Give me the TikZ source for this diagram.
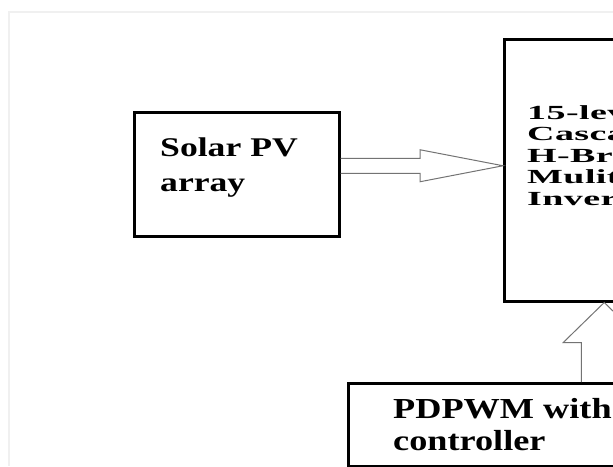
\documentclass[tikz,border=0pt]{standalone}
\usepackage{fontspec}
\setmainfont{Liberation Serif}
\newfontfamily\pvfont[FakeStretch=1.32]{Liberation Serif}
\newfontfamily\invfont[FakeStretch=1.9,LetterSpace=2]{Liberation Serif}
\newfontfamily\pwmfont[FakeStretch=1.25]{Liberation Serif}
\usetikzlibrary{positioning, calc}

\tikzset{
  blockbox/.style={draw, line width=2.5pt, inner sep=0pt, anchor=north west},
  blocktext/.style={anchor=base west, align=left, inner sep=0pt},
  hollow/.style={draw=black!55, line width=1pt, line join=miter},
}

\begin{document}
\begin{tikzpicture}[x=1pt, y=-1pt]
  \useasboundingbox (0,0) rectangle (613,466);
  \clip (0,0) rectangle (613,466);
  % faint frame of the scan
  \draw[black!6, line width=1.5pt] (9,466) -- (9,12) -- (613,12);
  % blocks (inverter and PWM boxes run past the right edge)
  \node[blockbox, minimum width=205pt, minimum height=124pt] (pv)  at (133,111) {};
  \node[blockbox, minimum width=200pt, minimum height=262pt] (inv) at (503,38)  {};
  \node[blockbox, minimum width=512pt, minimum height=83pt]  (pwm) at (347,382) {};
  % texts, anchored at the baseline of their last line
  \node[blocktext, font=\fontsize{27}{35}\selectfont\pvfont\bfseries] (pvtext) at (160,191.5)
    {Solar PV\\array};
  \node[blocktext, font=\fontsize{20}{21.5}\selectfont\invfont\bfseries] (invtext) at (527,205)
    {15-level\\Cascaded\\H-Bridge\\Mulitlevel\\Inverter};
  \node[blocktext, font=\fontsize{29}{32}\selectfont\pwmfont\bfseries] (pwmtext) at (393,450)
    {PDPWM with\\controller};
  % hollow arrow PV -> inverter
  \coordinate (a0) at ($(pv.east)+(0,-8.5)$);
  \coordinate (a1) at (a0 -| inv.west);
  \draw[hollow] ($(a0)+(0,-7.5)$) -- ($(a1)+(-83,-7.5)$) -- ($(a1)+(-83,-16)$) -- (a1)
    -- ($(a1)+(-83,16)$) -- ($(a1)+(-83,7.5)$) -- ($(a0)+(0,7.5)$);
  % hollow arrow PWM -> inverter
  \draw[hollow] ($(pwm.north)+(-23,0)$) -- ($(inv.south)+(-23,40)$) -- ($(inv.south)+(-41,40)$)
    -- (inv.south) -- ($(inv.south)+(41,40)$) -- ($(inv.south)+(23,40)$) -- ($(pwm.north)+(23,0)$);
\end{tikzpicture}
\end{document}
